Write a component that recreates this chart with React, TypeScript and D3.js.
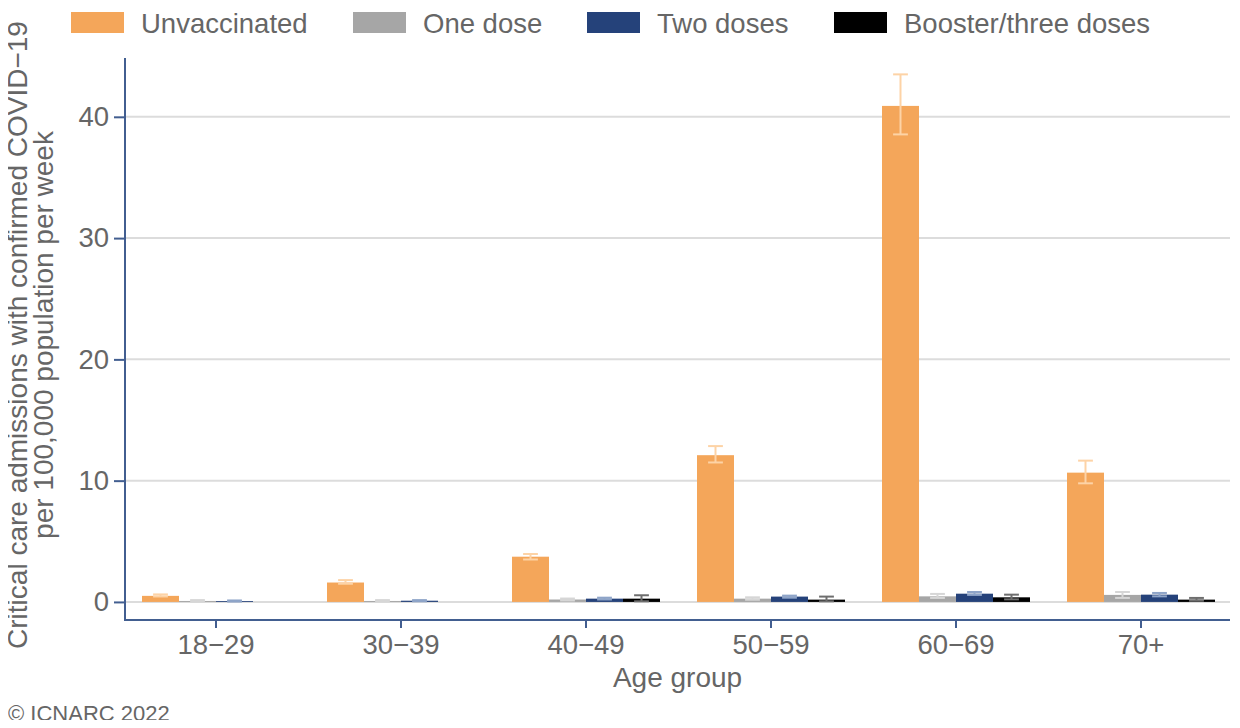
import React, { useRef, useEffect } from "react";
import * as d3 from "d3";

// Age bands on the x axis
const ageGroups = ["18−29", "30−39", "40−49", "50−59", "60−69", "70+"];

// Vaccination status series, drawn left to right inside each age band
const seriesNames = ["Unvaccinated", "One dose", "Two doses", "Booster/three doses"];
const seriesColors = ["#f4a65a", "#a6a6a6", "#25427a", "#000000"];
const errorColors = ["#fdd3a6", "#d6d6d6", "#8ea4c8", "#6e6e6e"];

// Rate per 100,000 per week (null = not reported)
const unvaccinated = [0.5, 1.6, 3.73, 12.1, 40.9, 10.66];
const oneDose = [0.08, 0.08, 0.2, 0.27, 0.46, 0.58];
const twoDoses = [0.07, 0.1, 0.27, 0.44, 0.68, 0.6];
const booster = [null, null, 0.27, 0.19, 0.38, 0.19];

// 95% interval bounds
const unvaccinatedLow = [0.45, 1.5, 3.5, 11.5, 38.55, 9.78];
const unvaccinatedHigh = [0.62, 1.8, 3.95, 12.85, 43.5, 11.65];
const oneDoseLow = [0.02, 0.03, 0.12, 0.18, 0.33, 0.33];
const oneDoseHigh = [0.15, 0.15, 0.28, 0.38, 0.66, 0.82];
const twoDosesLow = [0.03, 0.05, 0.2, 0.35, 0.58, 0.46];
const twoDosesHigh = [0.12, 0.15, 0.35, 0.52, 0.82, 0.74];
const boosterLow = [null, null, 0.05, 0.05, 0.21, 0.1];
const boosterHigh = [null, null, 0.55, 0.44, 0.6, 0.33];

const yTicks = [0, 10, 20, 30, 40];

const values = [unvaccinated, oneDose, twoDoses, booster];
const lows = [unvaccinatedLow, oneDoseLow, twoDosesLow, boosterLow];
const highs = [unvaccinatedHigh, oneDoseHigh, twoDosesHigh, boosterHigh];

const width = 1240;
const height = 728;
const axisColor = "#425e90";
const textColor = "#666666";
const font = "'Liberation Sans', Arial, sans-serif";

const VaccineChart = () => {
  const svgRef = useRef<SVGSVGElement>(null);

  useEffect(() => {
    const svg = d3.select(svgRef.current);
    svg.selectAll("*").remove();

    const panel = { left: 125, right: 1230, top: 58, bottom: 620 };

    const x = d3
      .scaleBand()
      .domain(ageGroups)
      .range([panel.left - 1.5, panel.right + 3.5])
      .paddingInner(0)
      .paddingOuter(0);

    const xSub = d3
      .scaleBand()
      .domain(seriesNames)
      .range([-x.bandwidth() * 0.4, x.bandwidth() * 0.4]);

    const y = d3
      .scaleLinear()
      .domain([-1.49, 44.85])
      .range([panel.bottom, panel.top]);

    // Horizontal grid lines
    svg
      .append("g")
      .selectAll("line")
      .data(yTicks)
      .join("line")
      .attr("x1", panel.left)
      .attr("x2", panel.right)
      .attr("y1", (d) => y(d))
      .attr("y2", (d) => y(d))
      .attr("stroke", "#dcdcdc")
      .attr("stroke-width", 2);

    // Flatten to one record per bar
    const rows = [];
    ageGroups.forEach((g, gi) => {
      seriesNames.forEach((s, si) => {
        const v = values[si][gi];
        if (v === null) return;
        rows.push({ g, s, si, v, lo: lows[si][gi], hi: highs[si][gi] });
      });
    });

    svg
      .append("g")
      .selectAll("rect")
      .data(rows)
      .join("rect")
      .attr("x", (d) => x(d.g) + x.bandwidth() / 2 + xSub(d.s))
      .attr("width", xSub.bandwidth())
      .attr("y", (d) => y(d.v))
      .attr("height", (d) => y(0) - y(d.v))
      .attr("fill", (d) => seriesColors[d.si]);

    // Error bars
    const cap = xSub.bandwidth() * 0.2;
    const err = svg
      .append("g")
      .selectAll("g")
      .data(rows)
      .join("g")
      .attr("stroke", (d) => errorColors[d.si])
      .attr("stroke-width", 2)
      .attr(
        "transform",
        (d) => `translate(${x(d.g) + x.bandwidth() / 2 + xSub(d.s) + xSub.bandwidth() / 2},0)`
      );
    err
      .append("line")
      .attr("y1", (d) => y(d.lo))
      .attr("y2", (d) => y(d.hi));
    err
      .append("line")
      .attr("x1", -cap)
      .attr("x2", cap)
      .attr("y1", (d) => y(d.lo))
      .attr("y2", (d) => y(d.lo));
    err
      .append("line")
      .attr("x1", -cap)
      .attr("x2", cap)
      .attr("y1", (d) => y(d.hi))
      .attr("y2", (d) => y(d.hi));

    // Y axis
    const yAxis = svg
      .append("g")
      .attr("transform", `translate(${panel.left},0)`)
      .call(d3.axisLeft(y).tickValues(yTicks).tickSize(11).tickPadding(5));
    yAxis.select(".domain").remove();
    yAxis.selectAll(".tick line").attr("stroke", axisColor).attr("stroke-width", 2);
    yAxis
      .selectAll(".tick text")
      .attr("fill", textColor)
      .attr("font-size", 27.5)
      .attr("font-family", font);

    // X axis
    const xAxis = svg
      .append("g")
      .attr("transform", `translate(0,${panel.bottom})`)
      .call(d3.axisBottom(x).tickSize(8).tickPadding(6));
    xAxis.select(".domain").remove();
    xAxis.selectAll(".tick line").attr("stroke", axisColor).attr("stroke-width", 2);
    xAxis
      .selectAll(".tick text")
      .attr("fill", textColor)
      .attr("font-size", 27.5)
      .attr("font-family", font);

    // Axis lines
    svg
      .append("path")
      .attr("d", `M${panel.left},${panel.top}V${panel.bottom}H${panel.right}`)
      .attr("fill", "none")
      .attr("stroke", axisColor)
      .attr("stroke-width", 2);

    // Axis titles
    svg
      .append("text")
      .attr("x", (panel.left + panel.right) / 2)
      .attr("y", 687)
      .attr("text-anchor", "middle")
      .attr("fill", textColor)
      .attr("font-size", 28)
      .attr("font-family", font)
      .text("Age group");

    const yTitle = svg
      .append("text")
      .attr("transform", `translate(0,${(panel.top + panel.bottom) / 2 - 4}) rotate(-90)`)
      .attr("text-anchor", "middle")
      .attr("fill", textColor)
      .attr("font-size", 28)
      .attr("font-family", font);
    yTitle.append("tspan").attr("x", 0).attr("y", 27).text("Critical care admissions with confirmed COVID−19");
    yTitle.append("tspan").attr("x", 0).attr("y", 53).text("per 100,000 population per week");

    // Legend
    const legendX = [71, 353, 587, 834];
    const legend = svg
      .append("g")
      .selectAll("g")
      .data(seriesNames)
      .join("g")
      .attr("transform", (d, i) => `translate(${legendX[i]},12)`);
    legend
      .append("rect")
      .attr("width", 53)
      .attr("height", 21)
      .attr("fill", (d, i) => seriesColors[i]);
    legend
      .append("text")
      .attr("x", 70)
      .attr("y", 20.5)
      .attr("fill", textColor)
      .attr("font-size", 27.5)
      .attr("font-family", font)
      .text((d) => d);

    // Caption
    svg
      .append("text")
      .attr("x", 8)
      .attr("y", 721)
      .attr("fill", textColor)
      .attr("font-size", 22)
      .attr("font-family", font)
      .text("© ICNARC 2022");
  }, []);

  return <svg ref={svgRef} width={width} height={height} style={{ display: "block" }}></svg>;
};

export default function App() {
  return (
    <div style={{ margin: -8 }}>
      <VaccineChart />
    </div>
  );
}
